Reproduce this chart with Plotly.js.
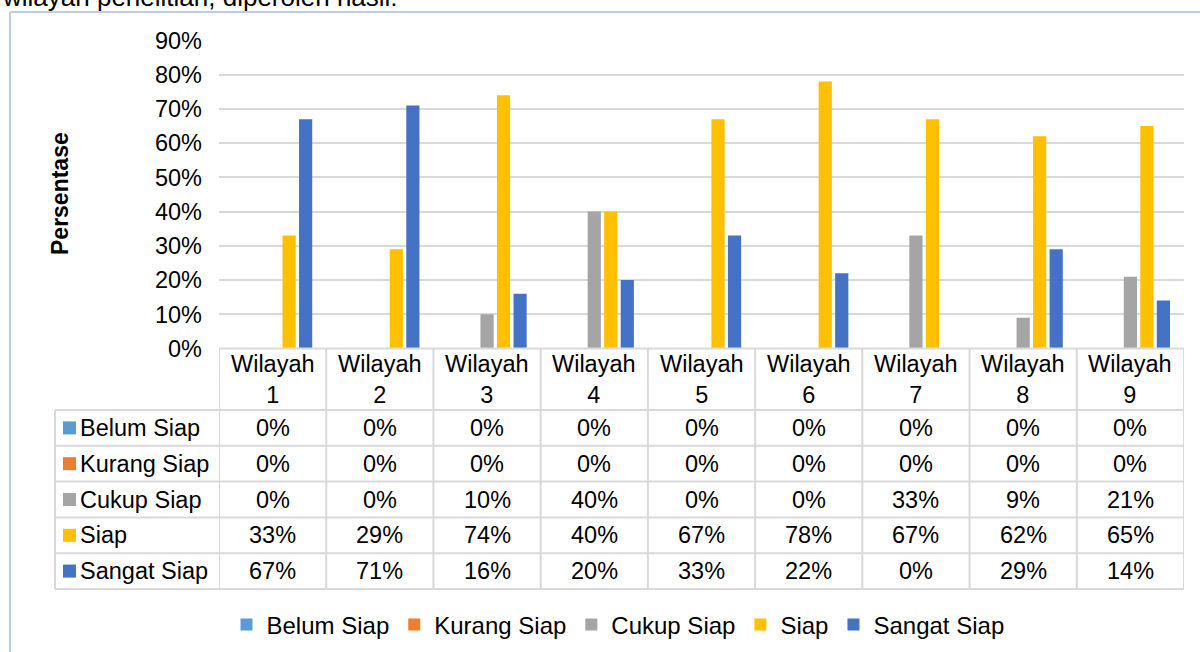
<!DOCTYPE html>
<html>
<head>
<meta charset="utf-8">
<script src="https://cdn.plot.ly/plotly-3.0.1.min.js"></script>
<style>
html,body{margin:0;padding:0;background:#fff;}
#chart{width:1200px;height:652px;}
</style>
</head>
<body>
<div id="chart"></div>
<script>
// ---- data ----
var categories = ["Wilayah 1","Wilayah 2","Wilayah 3","Wilayah 4","Wilayah 5","Wilayah 6","Wilayah 7","Wilayah 8","Wilayah 9"];
var seriesNames = ["Belum Siap","Kurang Siap","Cukup Siap","Siap","Sangat Siap"];
var belumSiap  = [0,0,0,0,0,0,0,0,0];
var kurangSiap = [0,0,0,0,0,0,0,0,0];
var cukupSiap  = [0,0,10,40,0,0,33,9,21];
var siap       = [33,29,74,40,67,78,67,62,65];
var sangatSiap = [67,71,16,20,33,22,0,29,14];
var yTickVals  = [0,10,20,30,40,50,60,70,80,90];
var yTitle = "Persentase";
var topText = "wilayah penelitian, diperoleh hasil:";

// ---- styles ----
var colors = ["#5b9bd5","#ed7d31","#a5a5a5","#ffc000","#4472c4"];
var W = 1200, H = 652;
function px(p){return p/W;}
function py(p){return 1-p/H;}
var plotL = 219, plotR = 1184, plotT = 40.5, plotB = 348.5;
var tableL = 55;
var headerB = 410;
var rowH = (589-410)/5;
var FONT = "Liberation Sans, Arial, sans-serif";
var gridCol = "#d9d9d9";
var TFS = 23.5;

var allSeries = [belumSiap,kurangSiap,cukupSiap,siap,sangatSiap];

var traces = allSeries.map(function(vals,i){
  return {
    type:"bar",
    name:seriesNames[i],
    x:categories,
    y:vals.map(function(v){return v/100;}),
    marker:{color:colors[i]},
    hoverinfo:"skip"
  };
});

var shapes = [];
var annotations = [];

// chart border (left and top)
shapes.push({type:"line",xref:"paper",yref:"paper",x0:px(10),x1:px(10),y0:py(12),y1:py(660),line:{color:"#bccde9",width:2}});
shapes.push({type:"line",xref:"paper",yref:"paper",x0:px(10),x1:px(1205),y0:py(12),y1:py(12),line:{color:"#bccde9",width:2}});

// table horizontal lines
for (var r=0;r<=5;r++){
  var yy = headerB + r*rowH;
  shapes.push({type:"line",xref:"paper",yref:"paper",x0:px(tableL),x1:px(plotR),y0:py(yy),y1:py(yy),line:{color:gridCol,width:2}});
}
// header top line (zero line)
shapes.push({type:"line",xref:"paper",yref:"paper",x0:px(plotL),x1:px(plotR),y0:py(plotB),y1:py(plotB),line:{color:gridCol,width:2}});
// vertical lines
shapes.push({type:"line",xref:"paper",yref:"paper",x0:px(tableL),x1:px(tableL),y0:py(headerB),y1:py(headerB+5*rowH),line:{color:gridCol,width:2}});
for (var k=0;k<=categories.length;k++){
  shapes.push({type:"line",xref:"x",yref:"paper",x0:k-0.5,x1:k-0.5,y0:py(plotB),y1:py(headerB+5*rowH),line:{color:gridCol,width:2}});
}

// header labels
categories.forEach(function(c,i){
  annotations.push({xref:"x",yref:"paper",x:i,y:py((plotB+headerB)/2),text:c.replace(" ","<br>"),showarrow:false,
    font:{family:FONT,size:TFS,color:"#000"},xanchor:"center",yanchor:"middle",align:"center"});
});

// row labels + keys + values
seriesNames.forEach(function(n,s){
  var cy = headerB + (s+0.5)*rowH;
  shapes.push({type:"rect",xref:"paper",yref:"paper",x0:px(63),x1:px(76),y0:py(cy-6.5),y1:py(cy+6.5),fillcolor:colors[s],line:{width:0}});
  annotations.push({xref:"paper",yref:"paper",x:px(78),y:py(cy),text:n,showarrow:false,
    font:{family:FONT,size:TFS,color:"#000"},xanchor:"left",yanchor:"middle"});
  allSeries[s].forEach(function(v,i){
    annotations.push({xref:"x",yref:"paper",x:i,y:py(cy),text:v+"%",showarrow:false,
      font:{family:FONT,size:TFS,color:"#000"},xanchor:"center",yanchor:"middle"});
  });
});

// y title
annotations.push({xref:"paper",yref:"paper",x:px(60),y:py(194),text:"<b>"+yTitle+"</b>",textangle:-90,showarrow:false,
  font:{family:FONT,size:23,color:"#000"},xanchor:"center",yanchor:"middle"});

// top cropped text
annotations.push({xref:"paper",yref:"paper",x:px(0),y:py(-3),text:topText,showarrow:false,
  font:{family:FONT,size:26,color:"#000"},xanchor:"left",yanchor:"middle"});

var layout = {
  width:W,height:H,
  margin:{l:0,r:0,t:0,b:0},
  paper_bgcolor:"#fff",plot_bgcolor:"#fff",
  barmode:"group",bargap:0.23,bargroupgap:0.2,
  xaxis:{domain:[px(plotL),px(plotR)],type:"category",range:[-0.5,categories.length-0.5],
    showticklabels:false,showgrid:false,zeroline:false,showline:false,ticks:"",fixedrange:true},
  yaxis:{domain:[py(plotB),py(plotT)],range:[0,0.9],tickvals:yTickVals.map(function(v){return v/100;}),
    ticktext:yTickVals.map(function(v){return v+"%";}),showgrid:true,gridcolor:gridCol,gridwidth:2,
    zeroline:false,showline:false,ticks:"",ticklabelstandoff:16,
    tickfont:{family:FONT,size:23.5,color:"#000"},fixedrange:true},
  showlegend:true,
  legend:{orientation:"h",x:px(618),xanchor:"center",y:py(625),yanchor:"middle",
    font:{family:FONT,size:24,color:"#000"},bgcolor:"rgba(0,0,0,0)",traceorder:"normal",itemclick:false},
  shapes:shapes,
  annotations:annotations
};

Plotly.newPlot("chart",traces,layout,{displayModeBar:false,staticPlot:true});
</script>
</body>
</html>
